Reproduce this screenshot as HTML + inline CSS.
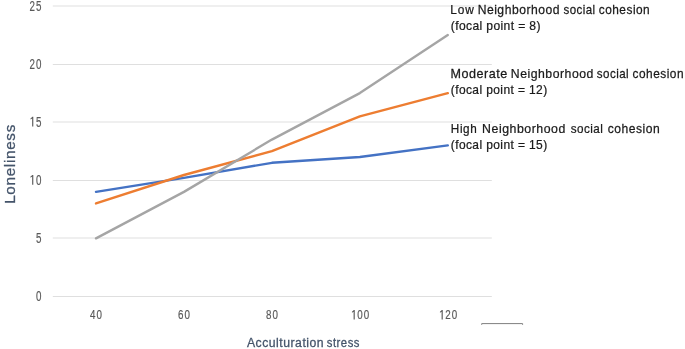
<!DOCTYPE html>
<html><head><meta charset="utf-8"><style>
html,body{margin:0;padding:0;background:#fff;width:685px;height:349px;overflow:hidden}
svg{display:block;will-change:transform}
text{font-family:"Liberation Sans",sans-serif;white-space:pre}
</style></head><body>
<svg width="685" height="349" viewBox="0 0 685 349">
<line x1="52.8" x2="491.8" y1="296.50" y2="296.50" stroke="#dfdfdf" stroke-width="1"/>
<line x1="52.8" x2="491.8" y1="238.00" y2="238.00" stroke="#dfdfdf" stroke-width="1"/>
<line x1="52.8" x2="491.8" y1="180.50" y2="180.50" stroke="#dfdfdf" stroke-width="1"/>
<line x1="52.8" x2="491.8" y1="122.00" y2="122.00" stroke="#dfdfdf" stroke-width="1"/>
<line x1="52.8" x2="491.8" y1="64.50" y2="64.50" stroke="#dfdfdf" stroke-width="1"/>
<line x1="52.8" x2="491.8" y1="6.00" y2="6.00" stroke="#dfdfdf" stroke-width="1"/>
<polyline points="96.00,191.86 183.95,177.92 271.90,162.82 359.85,157.01 447.80,145.39" fill="none" stroke="#4472C4" stroke-width="2.4" stroke-linecap="round" stroke-linejoin="round"/>
<polyline points="96.00,203.47 183.95,175.01 271.90,151.20 359.85,116.35 447.80,93.12" fill="none" stroke="#ED7D31" stroke-width="2.4" stroke-linecap="round" stroke-linejoin="round"/>
<polyline points="96.00,238.32 183.95,191.86 271.90,139.58 359.85,93.12 447.80,35.04" fill="none" stroke="#A5A5A5" stroke-width="2.4" stroke-linecap="round" stroke-linejoin="round"/>
<path d="M481.7,324.8 V323.6 H522.6 V324.8" fill="none" stroke="#7f7f7f" stroke-width="1"/>
<text transform="translate(450.35,13.50) scale(0.9007,1)" font-size="13.200" fill="#1a1a1a" stroke="#1a1a1a" stroke-width="0.25" letter-spacing="0.874">Low</text>
<text transform="translate(477.63,13.50) scale(0.9203,1)" font-size="13.200" fill="#1a1a1a" stroke="#1a1a1a" stroke-width="0.25" letter-spacing="0.555">Neighborhood</text>
<text transform="translate(563.45,13.50) scale(0.8735,1)" font-size="13.200" fill="#1a1a1a" stroke="#1a1a1a" stroke-width="0.25" letter-spacing="0.489">social</text>
<text transform="translate(598.72,13.50) scale(0.8997,1)" font-size="13.200" fill="#1a1a1a" stroke="#1a1a1a" stroke-width="0.25" letter-spacing="0.554">cohesion</text>
<text transform="translate(450.39,78.00) scale(0.9537,1)" font-size="13.200" fill="#1a1a1a" stroke="#1a1a1a" stroke-width="0.25" letter-spacing="0.582">Moderate</text>
<text transform="translate(510.82,78.00) scale(0.9283,1)" font-size="13.200" fill="#1a1a1a" stroke="#1a1a1a" stroke-width="0.25" letter-spacing="0.555">Neighborhood</text>
<text transform="translate(596.85,78.00) scale(0.8792,1)" font-size="13.200" fill="#1a1a1a" stroke="#1a1a1a" stroke-width="0.25" letter-spacing="0.489">social</text>
<text transform="translate(632.52,78.00) scale(0.8997,1)" font-size="13.200" fill="#1a1a1a" stroke="#1a1a1a" stroke-width="0.25" letter-spacing="0.554">cohesion</text>
<text transform="translate(450.86,133.30) scale(0.8890,1)" font-size="13.200" fill="#1a1a1a" stroke="#1a1a1a" stroke-width="0.25" letter-spacing="0.633">High</text>
<text transform="translate(482.11,133.30) scale(0.9340,1)" font-size="13.200" fill="#1a1a1a" stroke="#1a1a1a" stroke-width="0.25" letter-spacing="0.555">Neighborhood</text>
<text transform="translate(570.85,133.30) scale(0.8850,1)" font-size="13.200" fill="#1a1a1a" stroke="#1a1a1a" stroke-width="0.25" letter-spacing="0.489">social</text>
<text transform="translate(607.82,133.30) scale(0.9159,1)" font-size="13.200" fill="#1a1a1a" stroke="#1a1a1a" stroke-width="0.25" letter-spacing="0.554">cohesion</text>
<text transform="translate(450.78,29.90) scale(0.9149,1)" font-size="13.200" fill="#1a1a1a" stroke="#1a1a1a" stroke-width="0.25" letter-spacing="0.422">(focal point = 8)</text>
<text transform="translate(450.78,94.40) scale(0.9097,1)" font-size="13.200" fill="#1a1a1a" stroke="#1a1a1a" stroke-width="0.25" letter-spacing="0.430">(focal point = 12)</text>
<text transform="translate(450.78,149.40) scale(0.9097,1)" font-size="13.200" fill="#1a1a1a" stroke="#1a1a1a" stroke-width="0.25" letter-spacing="0.430">(focal point = 15)</text>
<text transform="translate(246.90,347.30) scale(0.9191,1)" font-size="13.300" fill="#44546A" stroke="#44546A" stroke-width="0.3" letter-spacing="0.551">Acculturation</text>
<text transform="translate(326.76,347.30) scale(0.8514,1)" font-size="13.300" fill="#44546A" stroke="#44546A" stroke-width="0.3" letter-spacing="0.601">stress</text>
<text transform="translate(38.60,301.00) scale(0.6994,1)" font-size="14.000" fill="#595959" stroke="#595959" stroke-width="0.2" text-anchor="middle">0</text>
<text transform="translate(38.60,242.90) scale(0.6994,1)" font-size="14.000" fill="#595959" stroke="#595959" stroke-width="0.2" text-anchor="middle">5</text>
<polygon points="33.30,184.70 33.30,174.90 32.40,174.90 30.50,176.60 30.50,177.70 32.15,176.60 32.15,184.70" fill="#595959"/><text transform="translate(38.60,184.70) scale(0.6994,1)" font-size="14.000" fill="#595959" stroke="#595959" stroke-width="0.2" text-anchor="middle">0</text>
<polygon points="33.30,126.60 33.30,116.80 32.40,116.80 30.50,118.50 30.50,119.60 32.15,118.50 32.15,126.60" fill="#595959"/><text transform="translate(38.60,126.60) scale(0.6994,1)" font-size="14.000" fill="#595959" stroke="#595959" stroke-width="0.2" text-anchor="middle">5</text>
<text transform="translate(32.10,69.00) scale(0.6994,1)" font-size="14.000" fill="#595959" stroke="#595959" stroke-width="0.2" text-anchor="middle">2</text><text transform="translate(38.60,69.00) scale(0.6994,1)" font-size="14.000" fill="#595959" stroke="#595959" stroke-width="0.2" text-anchor="middle">0</text>
<text transform="translate(32.10,11.10) scale(0.6994,1)" font-size="14.000" fill="#595959" stroke="#595959" stroke-width="0.2" text-anchor="middle">2</text><text transform="translate(38.60,11.10) scale(0.6994,1)" font-size="14.000" fill="#595959" stroke="#595959" stroke-width="0.2" text-anchor="middle">5</text>
<text transform="translate(92.80,319.40) scale(0.7331,1)" font-size="13.357" fill="#595959" stroke="#595959" stroke-width="0.2" text-anchor="middle">4</text><text transform="translate(99.30,319.40) scale(0.7331,1)" font-size="13.357" fill="#595959" stroke="#595959" stroke-width="0.2" text-anchor="middle">0</text>
<text transform="translate(180.80,319.40) scale(0.7331,1)" font-size="13.357" fill="#595959" stroke="#595959" stroke-width="0.2" text-anchor="middle">6</text><text transform="translate(187.30,319.40) scale(0.7331,1)" font-size="13.357" fill="#595959" stroke="#595959" stroke-width="0.2" text-anchor="middle">0</text>
<text transform="translate(268.80,319.40) scale(0.7331,1)" font-size="13.357" fill="#595959" stroke="#595959" stroke-width="0.2" text-anchor="middle">8</text><text transform="translate(275.30,319.40) scale(0.7331,1)" font-size="13.357" fill="#595959" stroke="#595959" stroke-width="0.2" text-anchor="middle">0</text>
<polygon points="354.75,319.40 354.75,310.05 353.85,310.05 351.95,311.75 351.95,312.85 353.60,311.75 353.60,319.40" fill="#595959"/><text transform="translate(360.05,319.40) scale(0.7331,1)" font-size="13.357" fill="#595959" stroke="#595959" stroke-width="0.2" text-anchor="middle">0</text><text transform="translate(366.55,319.40) scale(0.7331,1)" font-size="13.357" fill="#595959" stroke="#595959" stroke-width="0.2" text-anchor="middle">0</text>
<polygon points="442.75,319.40 442.75,310.05 441.85,310.05 439.95,311.75 439.95,312.85 441.60,311.75 441.60,319.40" fill="#595959"/><text transform="translate(448.05,319.40) scale(0.7331,1)" font-size="13.357" fill="#595959" stroke="#595959" stroke-width="0.2" text-anchor="middle">2</text><text transform="translate(454.55,319.40) scale(0.7331,1)" font-size="13.357" fill="#595959" stroke="#595959" stroke-width="0.2" text-anchor="middle">0</text>
<text transform="translate(14.5,203.82) rotate(-90) scale(1.0111,1)" font-size="15.100" fill="#44546A" stroke="#44546A" stroke-width="0.3" letter-spacing="0.681">Loneliness</text>
</svg>
</body></html>
